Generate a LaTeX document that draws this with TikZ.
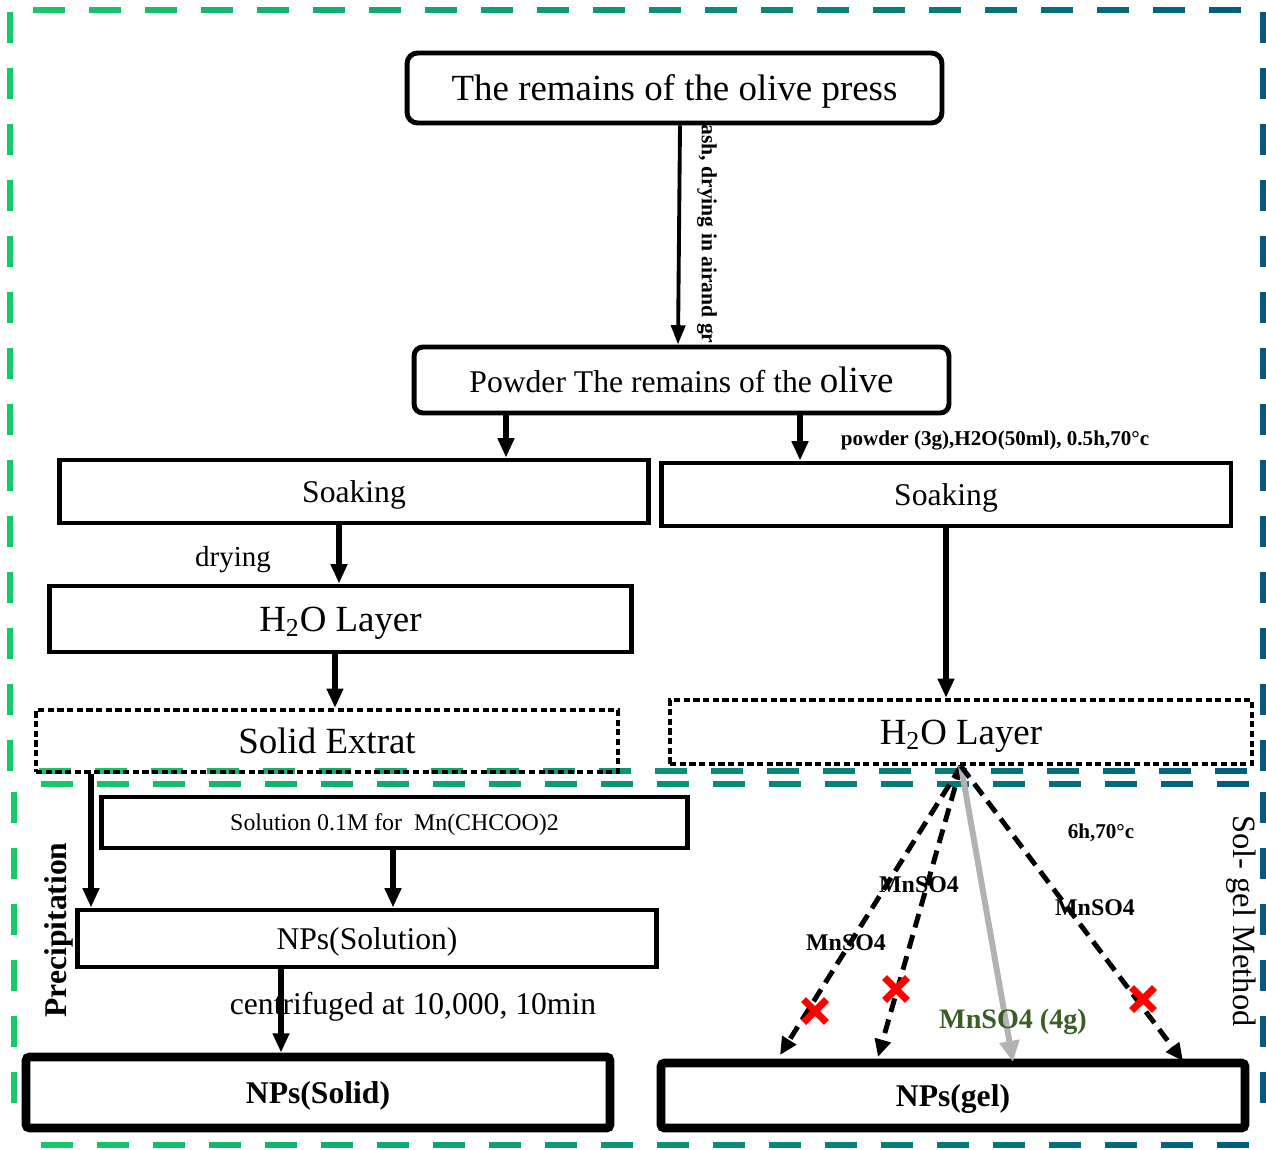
\documentclass[tikz,border=0pt]{standalone}
\usepackage{fontspec}
\setmainfont{Liberation Serif}
\usetikzlibrary{arrows.meta}
\usetikzlibrary{shapes.misc}
\definecolor{framegreen}{HTML}{17C96A}
\definecolor{frameblue}{HTML}{005B7F}
\definecolor{mnsgreen}{HTML}{3B5E25}

\begin{document}
\begin{tikzpicture}[x=0.02cm, y=-0.02cm,
        box/.style={draw, line width=2.8pt, inner sep=0pt, text depth=0pt},
        dotbox/.style={draw, line width=2.4pt, dash pattern=on 3.5pt off 2pt, inner sep=0pt, text depth=0pt},
        npbox/.style={draw, line width=5pt, rounded corners=2pt, inner sep=0pt, text depth=0pt, font=\fontsize{18}{20}\selectfont\bfseries},
        flow/.style={-{Triangle[length=11pt,width=9pt]}, line width=3pt},
        thinflow/.style={-{Triangle[length=11pt,width=8pt]}, line width=2.2pt},
        fan/.style={-{Triangle[length=10pt,width=9pt]}, line width=2.8pt, dash pattern=on 8pt off 4.5pt},
        xmark/.style={cross out, draw=red, line width=4pt, minimum size=9pt, inner sep=0pt},
        fdash/.style={line width=3.4pt}]
    \useasboundingbox (0,0) rectangle (1266,1149);

    % upper frame
    \foreach \x in {33,89,...,1209}{
        \pgfmathtruncatemacro\p{(\x-10)/12.52}
        \draw[fdash, color=frameblue!\p!framegreen] (\x,10) -- ++(32,0);
    }
    \foreach \x in {39,95,...,1215}{
        \pgfmathtruncatemacro\p{(\x-10)/12.52}
        \draw[fdash, color=frameblue!\p!framegreen] (\x,771) -- ++(32,0);
    }
    \foreach \y in {12,68,...,740}{
        \draw[fdash, framegreen] (10,\y) -- ++(0,31);
        \draw[fdash, frameblue] (1263,\y) -- ++(0,31);
    }
    % lower frame
    \foreach \x in {41,97,...,1217}{
        \pgfmathtruncatemacro\p{(\x-10)/12.52}
        \draw[fdash, color=frameblue!\p!framegreen] (\x,783.5) -- ++(32,0);
        \draw[fdash, color=frameblue!\p!framegreen] (\x,1145) -- ++(32,0);
    }
    \foreach \y in {792,848,...,1100}{
        \draw[fdash, framegreen] (14,\y) -- ++(0,31);
        \draw[fdash, frameblue] (1263,\y) -- ++(0,31);
    }

    % boxes
    \node[box, rounded corners=6pt, minimum width=10.7cm, minimum height=1.4cm, font=\fontsize{21}{24}\selectfont] (press) at (674.5,88) {The remains of the olive press};
    \node[box, rounded corners=5pt, minimum width=10.7cm, minimum height=1.32cm] (powder) at (681.5,380) {\fontsize{18}{20}\selectfont Powder The remains of the \fontsize{21}{24}\selectfont olive};
    \node[box, minimum width=11.8cm, minimum height=1.26cm, font=\fontsize{18}{20}\selectfont] (soakL) at (354,491.5) {Soaking};
    \node[box, minimum width=11.4cm, minimum height=1.26cm, font=\fontsize{18}{20}\selectfont] (soakR) at (946,494.5) {Soaking};
    \node[box, minimum width=11.66cm, minimum height=1.32cm, font=\fontsize{21}{24}\selectfont] (layerL) at (340.5,619) {H\textsubscript{2}O Layer};
    \node[dotbox, minimum width=11.64cm, minimum height=1.24cm, font=\fontsize{21}{24}\selectfont] (extract) at (327,741) {Solid Extrat};
    \node[dotbox, minimum width=11.64cm, minimum height=1.28cm, font=\fontsize{21}{24}\selectfont] (layerR) at (961,732) {H\textsubscript{2}O Layer};
    \node[box, minimum width=11.74cm, minimum height=1.02cm, font=\fontsize{13.6}{16}\selectfont] (solution) at (394.5,822.5) {Solution 0.1M for~ Mn(CHCOO)2};
    \node[box, minimum width=11.6cm, minimum height=1.14cm, font=\fontsize{18}{20}\selectfont] (npsol) at (367,938.5) {NPs(Solution)};
    \node[npbox, minimum width=11.68cm, minimum height=1.42cm] (npsolid) at (318,1092.5) {NPs(Solid)};
    \node[npbox, minimum width=11.68cm, minimum height=1.3cm] (npgel) at (953,1095.5) {NPs(gel)};

    % labels
    \node[rotate=-90, font=\fontsize{12.3}{14}\selectfont\bfseries] (washlbl) at (707,234) {ash, drying in airand gr};
    \node[font=\fontsize{12}{14}\selectfont\bfseries] (soaklbl) at (995,441) {powder (3g),H2O(50ml), 0.5h,70°c};
    \node[font=\fontsize{16.5}{18}\selectfont] (drylbl) at (233,560) {drying};
    \node[font=\fontsize{18}{20}\selectfont] (centlbl) at (413,1007) {centrifuged at 10,000, 10min};
    \node[rotate=90, font=\fontsize{18}{20}\selectfont\bfseries] (preclbl) at (59,930) {Precipitation};
    \node[rotate=-90, font=\fontsize{18.5}{20}\selectfont] (sollbl) at (1241,921) {Sol- gel Method};
    \node[font=\fontsize{12}{14}\selectfont\bfseries] (templbl) at (1101,833) {6h,70°c};

    % arrows
    \draw[thinflow] (press.south -| 680,0) -- (powder.north -| 678,0);
    \draw[flow] (powder.south -| 506,0) -- (soakL.north -| 506,0);
    \draw[flow] (powder.south -| 800,0) -- (soakR.north -| 800,0);
    \draw[flow] (soakL.south -| 339,0) -- (layerL.north -| 339,0);
    \draw[flow] (layerL.south -| 335,0) -- (extract.north -| 335,0);
    \draw[flow] (soakR.south -| 946,0) -- (layerR.north -| 946,0);
    \draw[flow] (extract.south -| 91,0) -- (npsol.north -| 91,0);
    \draw[flow] (solution.south -| 393,0) -- (npsol.north -| 393,0);
    \draw[flow] (npsol.south -| 281,0) -- (npsolid.north -| 281,0);

    % sol-gel fan
    \coordinate (g1) at (780,1055);
    \coordinate (g2) at (878,1057);
    \coordinate (g3) at (1013,1062);
    \coordinate (g4) at (1183,1061);
    \draw[fan] (layerR.south) -- (g1);
    \draw[fan] (layerR.south) -- (g2);
    \draw[-{Triangle[length=12pt,width=11pt]}, line width=3.4pt, gray!60] (layerR.south) -- (g3);
    \draw[fan] (layerR.south) -- (g4);
    \node[xmark] (x1) at (815,1011) {};
    \node[xmark] (x2) at (896,989) {};
    \node[xmark] (x3) at (1143,999) {};

    \node[font=\fontsize{13.6}{16}\selectfont\bfseries] (mn1) at (919,885) {MnSO4};
    \node[font=\fontsize{13.6}{16}\selectfont\bfseries] (mn2) at (846,943) {MnSO4};
    \node[font=\fontsize{13.6}{16}\selectfont\bfseries] (mn3) at (1095,908) {MnSO4};
    \node[font=\fontsize{16}{18}\selectfont\bfseries, mnsgreen] (mn4) at (1013,1022) {MnSO4 (4g)};
\end{tikzpicture}
\end{document}
